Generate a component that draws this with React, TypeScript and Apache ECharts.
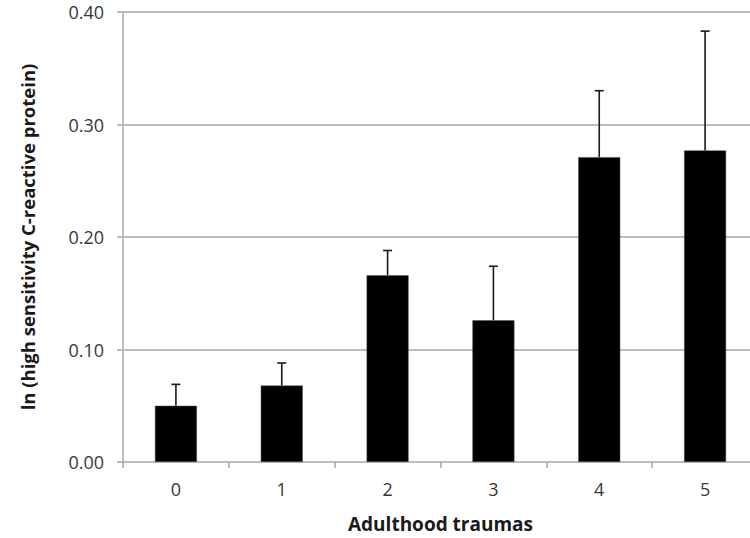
import React, { useEffect, useRef } from "react";
import * as echarts from "echarts";

const categories = ["0", "1", "2", "3", "4", "5"];
const means = [0.05, 0.068, 0.166, 0.126, 0.271, 0.277];
const upper = [0.069, 0.088, 0.188, 0.174, 0.33, 0.383];
const yTicks = [0, 0.1, 0.2, 0.3, 0.4];

export default function App() {
  const ref = useRef<HTMLDivElement>(null);
  useEffect(() => {
    if (!ref.current) return;
    const chart = echarts.init(ref.current, null, { renderer: "svg" });
    const font = "'Open Sans', 'Noto Sans', sans-serif";
    chart.setOption({
      animation: false,
      backgroundColor: "#ffffff",
      grid: { left: 123, right: 2, top: 12, bottom: 76, containLabel: false },
      xAxis: {
        type: "category",
        data: categories,
        name: "Adulthood traumas",
        nameLocation: "middle",
        nameGap: 52,
        nameTextStyle: { fontFamily: font, fontSize: 19, fontWeight: "bold", color: "#1a1a1a" },
        axisLine: { show: true, lineStyle: { color: "#bfbfbf", width: 1.5 } },
        axisTick: { show: true, length: 6, lineStyle: { color: "#a6a6a6", width: 1.5 } },
        axisLabel: { fontFamily: font, fontSize: 18, color: "#383838", margin: 18 },
        splitLine: { show: false },
      },
      yAxis: {
        type: "value",
        min: yTicks[0],
        max: yTicks[yTicks.length - 1],
        interval: 0.1,
        name: "ln (high sensitivity C-reactive protein)",
        nameLocation: "middle",
        nameGap: 86,
        nameTextStyle: { fontFamily: font, fontSize: 18.5, fontWeight: "bold", color: "#1a1a1a" },
        axisLine: { show: true, lineStyle: { color: "#bfbfbf", width: 2 } },
        axisTick: { show: true, length: 6, lineStyle: { color: "#a6a6a6", width: 1.5 } },
        axisLabel: {
          fontFamily: font,
          fontSize: 18,
          color: "#383838",
          margin: 19,
          formatter: (v: number) => v.toFixed(2),
        },
        splitLine: { show: true, lineStyle: { color: "#a6a6a6", width: 1.5 } },
      },
      series: [
        {
          type: "bar",
          data: means,
          barWidth: 42,
          itemStyle: { color: "#000000", borderColor: "#555555", borderWidth: 0.5 },
          z: 2,
        },
        {
          type: "custom",
          z: 3,
          data: upper.map((u, i) => [i, means[i], u]),
          renderItem: (params: any, api: any) => {
            const i = api.value(0);
            const base = api.coord([i, api.value(1)]);
            const top = api.coord([i, api.value(2)]);
            const half = 4.5;
            const style = { stroke: "#1a1a1a", lineWidth: 1.6 };
            return {
              type: "group",
              children: [
                { type: "line", shape: { x1: base[0], y1: base[1], x2: top[0], y2: top[1] }, style },
                { type: "line", shape: { x1: top[0] - half, y1: top[1], x2: top[0] + half, y2: top[1] }, style },
              ],
            };
          },
        },
      ],
    });
    return () => chart.dispose();
  }, []);
  return (
    <div style={{ position: "fixed", left: 0, top: 0, width: 750, height: 538, overflow: "hidden", background: "#fff" }}>
      <div ref={ref} style={{ width: 760, height: 538 }} />
    </div>
  );
}
